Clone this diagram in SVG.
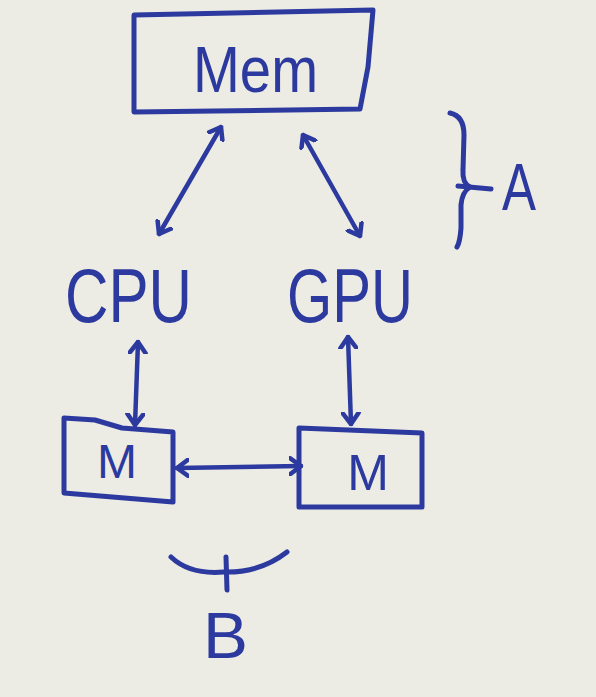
<svg xmlns="http://www.w3.org/2000/svg" width="596" height="697" viewBox="0 0 596 697">
<defs>
<marker id="ah" viewBox="-12 -10 14 20" markerWidth="14" markerHeight="20" refX="0" refY="0" orient="auto-start-reverse" markerUnits="userSpaceOnUse">
<polyline points="-11,-8 0,0 -11,8" fill="none" stroke="#2c3a9f" stroke-width="4.5" stroke-linecap="round" stroke-linejoin="round"/>
</marker>
</defs>
<style>
.ink{fill:none;stroke:#2c3a9f;stroke-width:5;stroke-linecap:round;stroke-linejoin:round}
.arr{fill:none;stroke:#2c3a9f;stroke-width:4.5;stroke-linecap:round;marker-start:url(#ah);marker-end:url(#ah)}
.t{fill:#2c3a9f;font-family:"Liberation Sans","DejaVu Sans",sans-serif}
</style>
<rect width="596" height="697" fill="#ecebe4"/>
<g id="mem">
<polygon class="ink" points="134,15 373,10 368,67 360,109 134,112"/>
<text class="t" x="193" y="92" font-size="64" textLength="125" lengthAdjust="spacingAndGlyphs">Mem</text>
</g>
<g id="cpu">
<text class="t" x="65" y="322" font-size="76" textLength="127" lengthAdjust="spacingAndGlyphs">CPU</text>
</g>
<g id="gpu">
<text class="t" x="287" y="322" font-size="76" textLength="126" lengthAdjust="spacingAndGlyphs">GPU</text>
</g>
<g id="m-left">
<polygon class="ink" points="64,418 95,420 122,428 173,432 173,502 64,493"/>
<text class="t" x="117" y="478" font-size="48" text-anchor="middle">M</text>
</g>
<g id="m-right">
<polygon class="ink" points="299,428 422,433 422,507 299,507"/>
<text class="t" x="368" y="490" font-size="50" text-anchor="middle">M</text>
</g>
<g id="brace-a">
<path class="ink" d="M450,113 Q464,116 464,135 L463,170 Q462,183 470,187 Q462,192 461,205 L461,228 Q460,242 457,247"/>
<path class="ink" d="M458,186 L491,189"/>
<text class="t" x="502" y="210" font-size="66" textLength="34" lengthAdjust="spacingAndGlyphs">A</text>
</g>
<g id="brace-b">
<path class="ink" d="M171,557 Q190,575 224,572 Q260,573 287,552"/>
<path class="ink" d="M226,557 L227,590"/>
<text class="t" x="203" y="658" font-size="64" textLength="45" lengthAdjust="spacingAndGlyphs">B</text>
</g>
<g id="connectors">
<line class="arr" x1="221" y1="127" x2="159" y2="234"/>
<line class="arr" x1="303" y1="135" x2="360" y2="236"/>
<line class="arr" x1="138" y1="342" x2="135" y2="425"/>
<line class="arr" x1="348" y1="337" x2="351" y2="424"/>
<line class="arr" x1="177" y1="468" x2="301" y2="466"/>
</g>
</svg>
